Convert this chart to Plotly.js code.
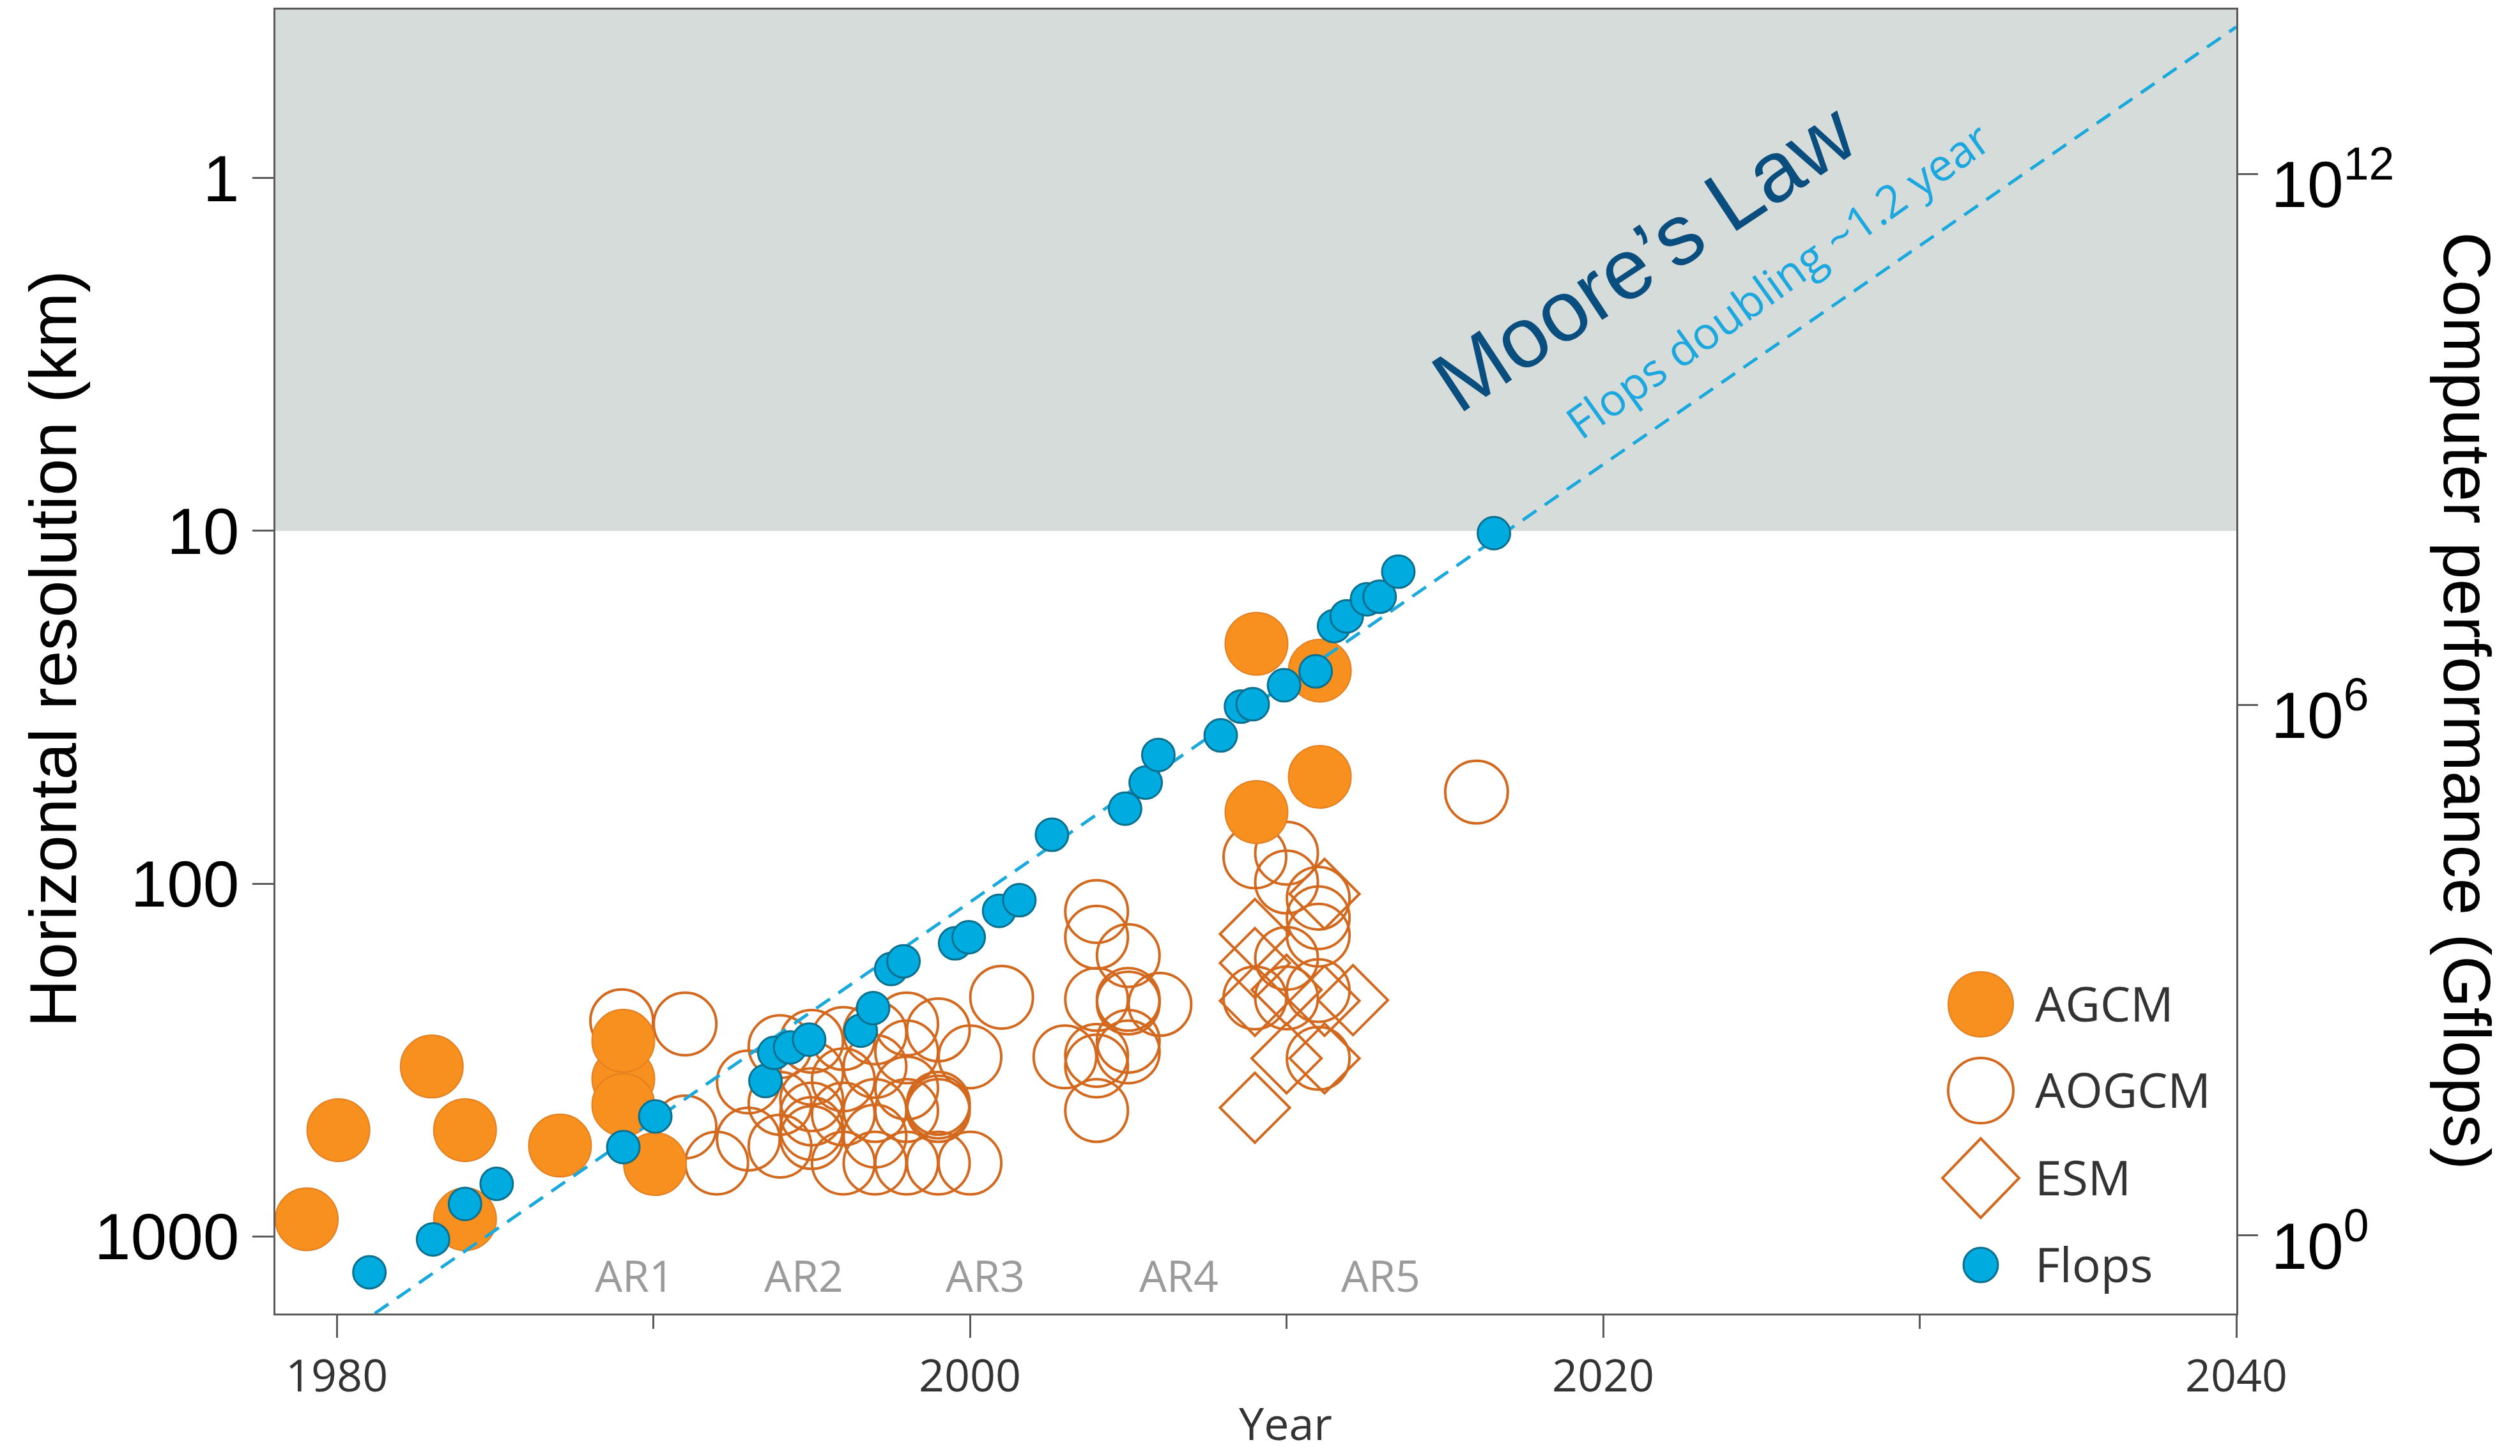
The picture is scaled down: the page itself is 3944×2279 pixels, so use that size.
<!DOCTYPE html>
<html>
<head>
<meta charset="utf-8">
<script src="https://cdn.plot.ly/plotly-3.0.1.min.js"></script>
<style>html,body{margin:0;padding:0;background:#fff;}#chart{width:3944px;height:2279px;}</style>
</head>
<body>
<div id="chart"></div>
<script>
// ---------------- data ----------------
// AGCM (filled circles): year, horizontal resolution (km)
const agcmYear = [1979.05, 1980.05, 1983.0, 1984.05, 1984.05, 1987.05, 1989.05, 1990.05, 1989.05, 1989.05, 2009.05, 2009.05, 2011.05, 2011.05];
const agcmKm   = [895, 500, 330, 500, 895, 553, 358, 624, 279, 424, 62.7, 20.9, 24.9, 49.8];

// AOGCM (open circles)
const aogcmYear = [1989.0, 1991.0, 1991.0, 1992.0, 1993.0, 1993.0, 1994.0, 1994.0, 1994.0,
                   1995.0, 1995.0, 1995.0, 1995.0, 1995.0, 1995.0, 1996.0, 1996.0, 1996.0, 1996.0,
                   1997.0, 1997.0, 1997.0, 1997.0, 1997.0, 1998.0, 1998.0, 1998.0, 1998.0, 1998.0,
                   1999.0, 1999.0, 1999.0, 1999.0, 1999.0, 2000.0, 2000.0, 2001.0, 2003.0,
                   2004.0, 2004.0, 2004.0, 2004.0, 2004.0, 2004.0, 2005.0, 2005.0, 2005.0, 2005.0, 2005.0, 2006.0,
                   2009.0, 2009.0, 2010.0, 2010.0, 2010.0, 2010.0, 2011.0, 2011.0, 2011.0, 2011.0, 2011.0, 2016.0];
const aogcmKm   = [245, 250, 490, 620, 365, 530, 290, 420, 555,
                   280, 345, 410, 450, 495, 525, 275, 360, 450, 620,
                   265, 330, 440, 520, 620, 250, 300, 380, 440, 620,
                   260, 420, 430, 440, 620, 310, 620, 210, 310,
                   120, 142, 213, 307, 329, 440, 160, 213, 218, 280, 300, 220,
                   84, 211, 82, 99, 163, 211, 110, 125, 140, 201, 313, 55];

// ESM (open diamonds)
const esmYear = [2009.0, 2009.0, 2009.0, 2009.0, 2010.0, 2010.0, 2011.2, 2011.2, 2011.2, 2012.1];
const esmKm   = [139, 168, 215, 432, 200, 313, 107, 215, 313, 214];

// Flops (computer performance, Gflops)
const flopsYear = [1981.03, 1983.04, 1984.05, 1985.05, 1989.05, 1990.06, 1993.54, 1993.82, 1994.32, 1994.92,
                   1996.55, 1996.94, 1997.51, 1997.9, 1999.53, 1999.96, 2000.92, 2001.56, 2002.59, 2004.9,
                   2005.55, 2005.95, 2007.92, 2008.56, 2008.93, 2009.92, 2010.92, 2011.5, 2011.9, 2012.54,
                   2012.94, 2013.53, 2016.55];
const flopsGflops = [0.385, 0.906, 2.28, 3.85, 10.0, 22.2, 55.8, 116, 134, 164,
                     207, 372, 1030, 1259, 2009, 2355, 4677, 6166, 33884, 66834,
                     131522, 270396, 449780, 950600, 1011600, 1659600, 2382300, 7744400, 9977000, 15559600,
                     16596000, 31842000, 86896000];

// Moore's law trend line (flops doubling ~1.2 year)
const mooreYear = [1981.2, 2040.0];
const mooreGflops = [Math.pow(10, -0.88), Math.pow(10, 13.66)];

// Tick labels
const kmTickVals = [1, 10, 100, 1000];
const kmTickText = ['1', '10', '100', '1000'];
const flopsTickVals = [1, 1e6, 1e12];
const flopsTickText = ['10<sup>0</sup>', '10<sup>6</sup>', '10<sup>12</sup>'];
const yearTickVals = [1980, 2000, 2020, 2040];

// IPCC assessment report labels
const arLabels = ['AR1', 'AR2', 'AR3', 'AR4', 'AR5'];
const arYears  = [1989.4, 1994.75, 2000.48, 2006.6, 2012.97];

// Legend entries
const legendNames = ['AGCM', 'AOGCM', 'ESM', 'Flops'];

// ---------------- layout geometry ----------------
const W = 3944, H = 2279;
const plotL = 431, plotR = 3500, plotT = 15, plotB = 2056;
const xRange = [1978.06, 2040.0];
const yLogBottom = 3.219, yLogTop = -0.478;
const y2LogBottom = -0.881, y2LogTop = 13.856;

function pxX(xp) { return (xp - plotL) / (plotR - plotL); }
function pxY(yp) { return (plotB - yp) / (plotB - plotT); }

const orangeFill = '#f8901f';
const orangeEdge = '#e27f22';
const orangeLine = '#d2691e';
const blueFill = '#00acdf';
const blueEdge = '#0b6f8e';
const axisColor = '#5a5a5a';

const traces = [
  {
    name: 'AOGCM', type: 'scatter', mode: 'markers',
    x: aogcmYear, y: aogcmKm, xaxis: 'x', yaxis: 'y',
    marker: {symbol: 'circle', size: 98, color: 'rgba(0,0,0,0)', line: {color: orangeLine, width: 4}},
    hoverinfo: 'skip'
  },
  {
    name: 'ESM', type: 'scatter', mode: 'markers',
    x: esmYear, y: esmKm, xaxis: 'x', yaxis: 'y',
    marker: {symbol: 'diamond', size: 84, color: 'rgba(0,0,0,0)', line: {color: orangeLine, width: 4}},
    hoverinfo: 'skip'
  },
  {
    name: 'AGCM', type: 'scatter', mode: 'markers',
    x: agcmYear, y: agcmKm, xaxis: 'x', yaxis: 'y',
    marker: {symbol: 'circle', size: 98, color: orangeFill, line: {color: orangeEdge, width: 2}},
    hoverinfo: 'skip'
  },
  {
    name: 'Moore', type: 'scatter', mode: 'lines',
    x: mooreYear, y: mooreGflops, xaxis: 'x', yaxis: 'y2',
    line: {color: '#1aa9dc', width: 5, dash: '26px,16px'},
    hoverinfo: 'skip'
  },
  {
    name: 'Flops', type: 'scatter', mode: 'markers',
    x: flopsYear, y: flopsGflops, xaxis: 'x', yaxis: 'y2',
    marker: {symbol: 'circle', size: 51, color: blueFill, line: {color: blueEdge, width: 3}},
    hoverinfo: 'skip'
  }
];

// ---------------- shapes ----------------
const shapes = [
  {type: 'rect', xref: 'paper', x0: 0, x1: 1, yref: 'y', y0: 10, y1: Math.pow(10, yLogTop),
   fillcolor: '#d6dcd9', line: {width: 0}, layer: 'below'}
];

// custom legend symbols
const legX = 3100;
const legY = [1572, 1707, 1844, 1980];
function circleShape(cx, cy, d, fill, lineColor, lw) {
  return {type: 'circle', xref: 'paper', yref: 'paper',
    x0: pxX(cx - d / 2), x1: pxX(cx + d / 2), y0: pxY(cy + d / 2), y1: pxY(cy - d / 2),
    fillcolor: fill, line: {color: lineColor, width: lw}, layer: 'above'};
}
shapes.push(circleShape(legX, legY[0], 102, orangeFill, orangeEdge, 2));
shapes.push(circleShape(legX, legY[1], 102, 'rgba(0,0,0,0)', orangeLine, 4));
(function () {
  const hw = 60, hh = 62;
  const cx = legX, cy = legY[2];
  const p = 'M ' + pxX(cx) + ' ' + pxY(cy - hh) +
            ' L ' + pxX(cx + hw) + ' ' + pxY(cy) +
            ' L ' + pxX(cx) + ' ' + pxY(cy + hh) +
            ' L ' + pxX(cx - hw) + ' ' + pxY(cy) + ' Z';
  shapes.push({type: 'path', xref: 'paper', yref: 'paper', path: p,
    fillcolor: 'rgba(0,0,0,0)', line: {color: orangeLine, width: 4}, layer: 'above'});
})();
shapes.push(circleShape(legX, legY[3], 54, blueFill, blueEdge, 3));

// ---------------- annotations ----------------
const annotations = [];
legendNames.forEach(function (n, i) {
  annotations.push({xref: 'paper', yref: 'paper', x: pxX(3183), y: pxY(legY[i] - 2),
    xanchor: 'left', yanchor: 'middle', showarrow: false, text: n,
    font: {family: 'Open Sans', size: 75, color: '#333333'}});
});
arLabels.forEach(function (t, i) {
  annotations.push({xref: 'x', yref: 'paper', x: arYears[i], y: pxY(1995),
    xanchor: 'center', yanchor: 'middle', showarrow: false, text: t,
    font: {family: 'Open Sans', size: 68, color: '#9b9b9b'}});
});
annotations.push({xref: 'x', yref: 'paper', x: 2021.3, y: pxY(402), xanchor: 'center', yanchor: 'middle',
  showarrow: false, text: 'Moore\u2019s Law', textangle: -33.5,
  font: {family: 'Liberation Sans', size: 134, color: '#0a4d7f'}});
annotations.push({xref: 'x', yref: 'paper', x: 2025.5, y: pxY(438), xanchor: 'center', yanchor: 'middle',
  showarrow: false, text: 'Flops doubling ~1.2 year', textangle: -35.5,
  font: {family: 'Open Sans', size: 70, color: '#1ca8df'}});
annotations.push({xref: 'paper', yref: 'paper', x: pxX(83), y: pxY(1016), xanchor: 'center', yanchor: 'middle',
  showarrow: false, text: 'Horizontal resolution (km)', textangle: -90,
  font: {family: 'Liberation Sans', size: 104, color: '#000000'}});
annotations.push({xref: 'paper', yref: 'paper', x: pxX(3861), y: pxY(1097), xanchor: 'center', yanchor: 'middle',
  showarrow: false, text: 'Computer performance (Gflops)', textangle: 90,
  font: {family: 'Liberation Sans', size: 104, color: '#000000'}});
annotations.push({xref: 'paper', yref: 'paper', x: pxX(2012), y: pxY(2277), xanchor: 'center', yanchor: 'bottom',
  showarrow: false, text: 'Year',
  font: {family: 'Open Sans', size: 70, color: '#333333'}});

const layout = {
  width: W, height: H,
  margin: {l: plotL, r: W - plotR, t: plotT, b: H - plotB, pad: 0},
  paper_bgcolor: '#ffffff', plot_bgcolor: '#ffffff',
  showlegend: false,
  xaxis: {
    range: xRange, tickmode: 'array', tickvals: yearTickVals,
    ticks: 'outside', ticklen: 35, tickwidth: 3, tickcolor: axisColor,
    showline: true, linecolor: axisColor, linewidth: 3, mirror: true,
    showgrid: false, zeroline: false,
    tickfont: {family: 'Open Sans', size: 70, color: '#333333'},
    minor: {tickmode: 'linear', tick0: 1980, dtick: 10, ticks: 'outside', ticklen: 21, tickwidth: 3, tickcolor: axisColor, showgrid: false}
  },
  yaxis: {
    type: 'log', range: [yLogBottom, yLogTop],
    tickmode: 'array', tickvals: kmTickVals, ticktext: kmTickText,
    ticks: 'outside', ticklen: 33, tickwidth: 3, tickcolor: axisColor,
    showline: true, linecolor: axisColor, linewidth: 3, mirror: true,
    showgrid: false, zeroline: false,
    tickfont: {family: 'Liberation Sans', size: 102, color: '#000000'}
  },
  yaxis2: {
    type: 'log', overlaying: 'y', side: 'right', range: [y2LogBottom, y2LogTop],
    tickmode: 'array', tickvals: flopsTickVals, ticktext: flopsTickText,
    ticks: 'outside', ticklen: 33, tickwidth: 3, tickcolor: axisColor,
    ticklabelshift: 16,
    showline: false, showgrid: false, zeroline: false,
    tickfont: {family: 'Liberation Sans', size: 102, color: '#000000'}
  },
  shapes: shapes,
  annotations: annotations
};

Plotly.newPlot('chart', traces, layout, {displayModeBar: false, staticPlot: true});
</script>
</body>
</html>
